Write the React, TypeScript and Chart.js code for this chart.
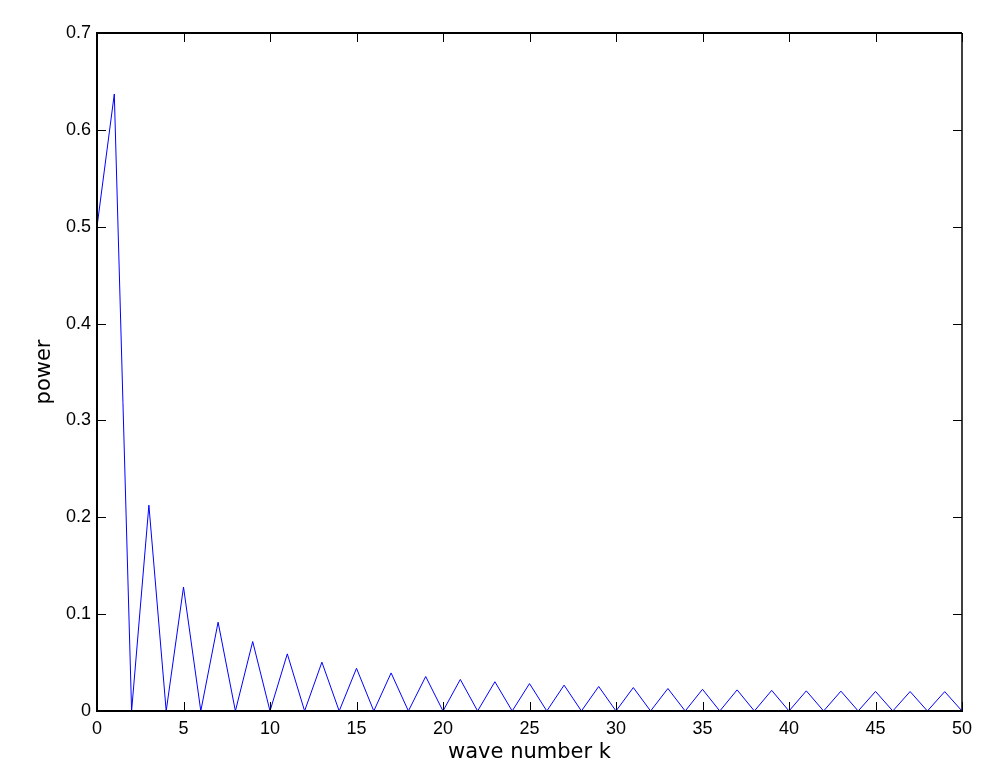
import React, { useEffect, useRef } from "react";
import { Chart, registerables } from "chart.js";

Chart.register(...registerables);

const waveNumbers = [
  0, 1, 2, 3, 4, 5, 6, 7, 8, 9, 10, 11, 12, 13, 14, 15, 16, 17, 18, 19, 20,
  21, 22, 23, 24, 25, 26, 27, 28, 29, 30, 31, 32, 33, 34, 35, 36, 37, 38, 39,
  40, 41, 42, 43, 44, 45, 46, 47, 48, 49, 50,
];

const power = [
  0.5, 0.637, 0, 0.2125, 0, 0.128, 0, 0.0917, 0, 0.0717, 0, 0.059, 0, 0.0504,
  0, 0.0441, 0, 0.0393, 0, 0.0356, 0, 0.0326, 0, 0.0302, 0, 0.0283, 0, 0.0267,
  0, 0.0253, 0, 0.0242, 0, 0.0232, 0, 0.0224, 0, 0.0218, 0, 0.0213, 0, 0.0208,
  0, 0.0205, 0, 0.0202, 0, 0.0201, 0, 0.02, 0,
];

const xTickValues = [0, 5, 10, 15, 20, 25, 30, 35, 40, 45, 50];
const yTickValues = [0, 0.1, 0.2, 0.3, 0.4, 0.5, 0.6, 0.7];
const yTickLabels = ["0", "0.1", "0.2", "0.3", "0.4", "0.5", "0.6", "0.7"];

const xLabel = "wave number k";
const yLabel = "power";

const TICK_FONT = "'Liberation Sans', Arial, Helvetica, sans-serif";
const TITLE_FONT = "'DejaVu Sans', 'Liberation Sans', sans-serif";

const framePlugin = {
  id: "matlabFrame",
  afterDatasetsDraw(chart: any) {
    const { ctx, chartArea } = chart;
    const { left, right, top, bottom } = chartArea;
    const xs = chart.scales.x;
    const ys = chart.scales.y;
    ctx.save();
    ctx.strokeStyle = "#000";
    ctx.lineCap = "butt";
    ctx.lineWidth = 1;
    const tl = 9;
    ctx.beginPath();
    xTickValues.forEach((v) => {
      const px = Math.round(xs.getPixelForValue(v)) + 0.5;
      ctx.moveTo(px, bottom);
      ctx.lineTo(px, bottom - tl);
      ctx.moveTo(px, top);
      ctx.lineTo(px, top + tl);
    });
    yTickValues.forEach((v) => {
      const py = Math.round(ys.getPixelForValue(v)) + 0.5;
      ctx.moveTo(left, py);
      ctx.lineTo(left + tl, py);
      ctx.moveTo(right, py);
      ctx.lineTo(right - tl, py);
    });
    ctx.stroke();
    ctx.lineWidth = 1.5;
    ctx.beginPath();
    ctx.moveTo(right, top);
    ctx.lineTo(right, bottom);
    ctx.stroke();
    ctx.lineWidth = 2;
    ctx.beginPath();
    ctx.moveTo(right, top);
    ctx.lineTo(left, top);
    ctx.lineTo(left, bottom);
    ctx.lineTo(right + 1, bottom);
    ctx.stroke();
    ctx.restore();
  },
};

export default function App() {
  const canvasRef = useRef<HTMLCanvasElement | null>(null);

  useEffect(() => {
    const canvas = canvasRef.current;
    if (!canvas) return;
    const points = waveNumbers.map((k, i) => ({ x: k, y: power[i] }));
    const chart = new Chart(canvas, {
      type: "line",
      data: {
        datasets: [
          {
            data: points,
            borderColor: "rgb(0,0,255)",
            borderWidth: 1,
            pointRadius: 0,
            fill: false,
            tension: 0,
          },
        ],
      },
      options: {
        animation: false,
        responsive: false,
        devicePixelRatio: 1,
        layout: { padding: { top: 33, right: 20, left: 0, bottom: 0 } },
        plugins: {
          legend: { display: false },
          tooltip: { enabled: false },
          title: { display: false },
        },
        scales: {
          x: {
            type: "linear",
            min: 0,
            max: 50,
            afterBuildTicks: (scale: any) => {
              scale.ticks = xTickValues.map((v) => ({ value: v }));
            },
            afterFit: (scale: any) => {
              scale.height = 63;
            },
            grid: { display: false, drawTicks: false },
            border: { display: false },
            ticks: {
              autoSkip: false,
              maxRotation: 0,
              padding: 7,
              color: "#000",
              font: { family: TICK_FONT, size: 18 },
              callback: (v: any) => String(v),
            },
            title: {
              display: true,
              text: xLabel,
              color: "#000",
              font: { family: TITLE_FONT, size: 21 },
              padding: { top: 0, bottom: 8.7 },
            },
          },
          y: {
            type: "linear",
            min: 0,
            max: 0.7,
            afterBuildTicks: (scale: any) => {
              scale.ticks = yTickValues.map((v) => ({ value: v }));
            },
            afterFit: (scale: any) => {
              scale.width = 97;
            },
            grid: { display: false, drawTicks: false },
            border: { display: false },
            ticks: {
              autoSkip: false,
              padding: 6,
              color: "#000",
              font: { family: TICK_FONT, size: 18 },
              callback: (_v: any, i: number) => yTickLabels[i],
            },
            title: {
              display: true,
              text: yLabel,
              color: "#000",
              font: { family: TITLE_FONT, size: 21 },
              padding: { top: 31.5, bottom: 0 },
            },
          },
        },
      },
      plugins: [framePlugin],
    });
    return () => chart.destroy();
  }, []);

  return (
    <div
      style={{
        position: "fixed",
        left: 0,
        top: 0,
        width: 982,
        height: 774,
        background: "#fff",
      }}
    >
      <canvas ref={canvasRef} width={982} height={774} />
    </div>
  );
}
